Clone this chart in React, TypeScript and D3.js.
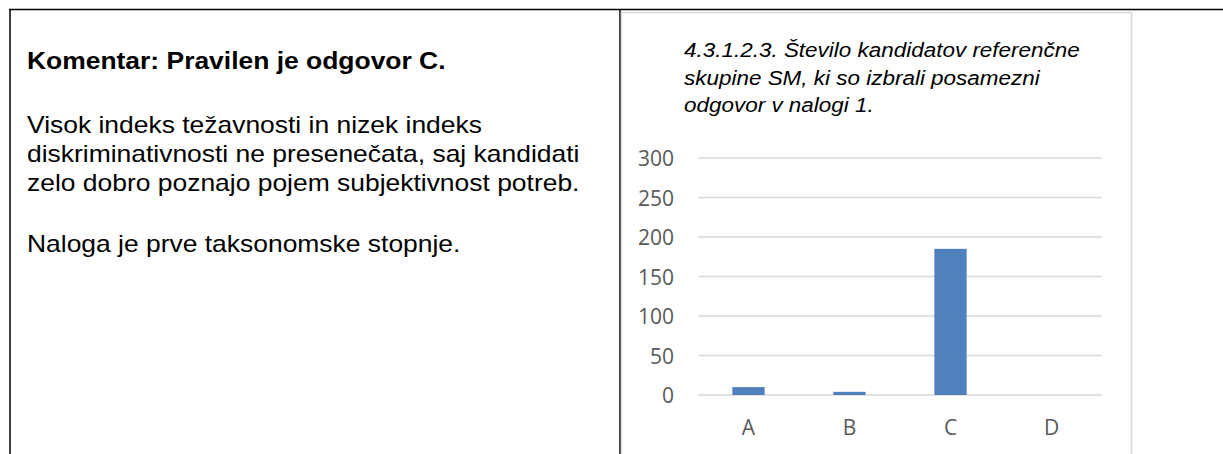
import { useEffect, useRef } from "react"
import * as d3 from "d3"

const categories = ["A", "B", "C", "D"]
const counts = [10, 4, 185, 0]
const yTicks = [0, 50, 100, 150, 200, 250, 300]

const titleLines = [
	"4.3.1.2.3. Število kandidatov referenčne",
	"skupine SM, ki so izbrali posamezni",
	"odgovor v nalogi 1.",
]
const commentHead = "Komentar: Pravilen je odgovor C."
const commentLines = [
	"Visok indeks težavnosti in nizek indeks",
	"diskriminativnosti ne presenečata, saj kandidati",
	"zelo dobro poznajo pojem subjektivnost potreb.",
]
const commentLast = "Naloga je prve taksonomske stopnje."

function App() {
	const ref = useRef<SVGSVGElement>(null)
	const width = 1223
	const height = 454
	const plot = { left: 698, right: 1102, top: 158, bottom: 395 }

	useEffect(() => {
		const svg = d3.select(ref.current)
		svg.selectAll("*").remove()

		// table frame
		const frame = svg.append("g").attr("stroke", "#000").attr("stroke-width", 1.5)
		frame.append("line").attr("x1", 9).attr("x2", width).attr("y1", 9.5).attr("y2", 9.5)
		frame.append("line").attr("x1", 10).attr("x2", 10).attr("y1", 9).attr("y2", height)
		frame.append("line").attr("x1", 620).attr("x2", 620).attr("y1", 9).attr("y2", height)

		// left comment text (source image is a bit stretched sideways)
		const txt = svg
			.append("g")
			.attr("font-family", "'Liberation Sans', Arial, sans-serif")
			.attr("font-size", 23)
			.attr("fill", "#000")
		const line = (t: string, yPos: number, bold = false) =>
			txt
				.append("text")
				.attr("transform", `translate(27,${yPos}) scale(1.15,1)`)
				.attr("font-weight", bold ? "bold" : "normal")
				.text(t)
		line(commentHead, 69, true)
		commentLines.forEach((l, i) => line(l, 133 + i * 29))
		line(commentLast, 252)

		// chart box
		svg
			.append("rect")
			.attr("x", 621.5)
			.attr("y", 12.5)
			.attr("width", 510)
			.attr("height", 470)
			.attr("fill", "#fff")
			.attr("stroke", "#d9d9d9")
			.attr("stroke-width", 1.5)

		svg
			.append("g")
			.attr("font-family", "'Liberation Sans', Arial, sans-serif")
			.attr("font-style", "italic")
			.attr("font-size", 21)
			.attr("fill", "#000")
			.selectAll("text")
			.data(titleLines)
			.enter()
			.append("text")
			.attr("transform", (d, i) => `translate(684,${57 + i * 27.5}) scale(1.07,1)`)
			.text((d) => d)

		const x = d3
			.scaleBand()
			.domain(categories)
			.range([plot.left, plot.right])
			.paddingInner(0.68)
			.paddingOuter(0.34)

		const y = d3.scaleLinear().domain([0, 300]).range([plot.bottom, plot.top])

		svg
			.append("g")
			.selectAll("line")
			.data(yTicks)
			.enter()
			.append("line")
			.attr("x1", plot.left)
			.attr("x2", plot.right)
			.attr("y1", (d) => y(d))
			.attr("y2", (d) => y(d))
			.attr("stroke", "#d9d9d9")
			.attr("stroke-width", 1.5)

		const labels = svg
			.append("g")
			.attr("font-family", "'Open Sans', sans-serif")
			.attr("font-size", 21)
			.attr("fill", "#595959")
		labels
			.selectAll("text.ytick")
			.data(yTicks)
			.enter()
			.append("text")
			.attr("class", "ytick")
			.attr("x", 674)
			.attr("y", (d) => y(d) + 8)
			.attr("text-anchor", "end")
			.text((d) => d)

		labels
			.selectAll("text.xtick")
			.data(categories)
			.enter()
			.append("text")
			.attr("class", "xtick")
			.attr("x", (d) => (x(d) || 0) + x.bandwidth() / 2)
			.attr("y", 435)
			.attr("text-anchor", "middle")
			.text((d) => d)

		svg
			.append("g")
			.selectAll("rect")
			.data(counts)
			.enter()
			.append("rect")
			.attr("x", (d, i) => x(categories[i]) || 0)
			.attr("y", (d) => y(d))
			.attr("width", x.bandwidth())
			.attr("height", (d) => plot.bottom - y(d))
			.attr("fill", "#4f81bd")
	}, [])

	return (
		<svg
			ref={ref}
			width={width}
			height={height}
			style={{ position: "absolute", left: 0, top: 0, background: "#fff" }}
		></svg>
	)
}

export default App
